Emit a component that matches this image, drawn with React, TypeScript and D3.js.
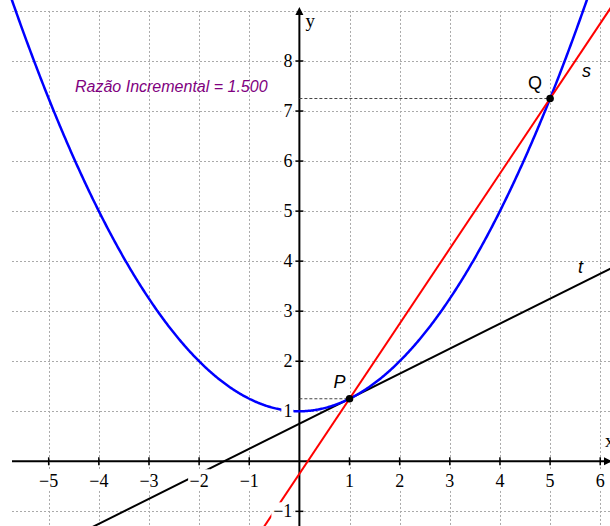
import React from "react";
import * as d3 from "d3";

const W = 610;
const H = 526;

// data
const xTicks = [-5, -4, -3, -2, -1, 1, 2, 3, 4, 5, 6];
const yTicks = [-1, 1, 2, 3, 4, 5, 6, 7, 8];
const gridX = [-5, -4, -3, -2, -1, 1, 2, 3, 4, 5, 6];
const gridY = [-1, 1, 2, 3, 4, 5, 6, 7, 8, 9];
// parabola f(x) = a x^2 + c
const parabolaA = 0.25;
const parabolaC = 1;
const pointP = { name: "P", x: 1, y: 1.25 };
const pointQ = { name: "Q", x: 5, y: 7.25 };
const tangentSlope = 0.5;
const titleText = "Razão Incremental = 1.500";

const f = (x: number) => parabolaA * x * x + parabolaC;

export default function App() {
  const xs = d3.scaleLinear().domain([-5.971, 6.195]).range([0, W]);
  const ys = d3.scaleLinear().domain([-1.293, 9.219]).range([H, 0]);
  const x0 = xs(0);
  const y0 = ys(0);
  const gridLeft = 12;
  const gridTop = ys(9);

  const samples = d3.range(-6.5, 6.5, 0.02);
  const line = d3
    .line<number>()
    .x((d) => xs(d))
    .y((d) => ys(f(d)));

  const secSlope = (pointQ.y - pointP.y) / (pointQ.x - pointP.x);
  const secB = pointP.y - secSlope * pointP.x;
  const tanB = pointP.y - tangentSlope * pointP.x;
  const lineSeg = (m: number, b: number) => {
    const xa = -7,
      xb = 7;
    return { x1: xs(xa), y1: ys(m * xa + b), x2: xs(xb), y2: ys(m * xb + b) };
  };
  const sec = lineSeg(secSlope, secB);
  const tan = lineSeg(tangentSlope, tanB);

  const fmt = (v: number) => (v < 0 ? "\u2212" + Math.abs(v) : String(v));
  const labW = (s: string) => s.length === 1 ? 10 : 20;

  const serif = "'Liberation Serif', 'DejaVu Serif', serif";
  const sans = "'Liberation Sans', Arial, sans-serif";

  return (
    <svg
      width={W}
      height={H}
      style={{ position: "absolute", left: 0, top: 0, background: "#fff" }}
    >
      <defs>
        <clipPath id="plot">
          <rect x={0} y={0} width={W} height={H} />
        </clipPath>
      </defs>
      {/* grid */}
      <g stroke="#aaaaaa" strokeWidth={1} strokeDasharray="2,2">
        {gridX.map((v) => (
          <line key={"gx" + v} x1={Math.round(xs(v)) + 0.5} x2={Math.round(xs(v)) + 0.5} y1={gridTop} y2={H} />
        ))}
        {gridY.map((v) => (
          <line key={"gy" + v} x1={gridLeft} x2={W} y1={Math.round(ys(v)) + 0.5} y2={Math.round(ys(v)) + 0.5} />
        ))}
      </g>
      {/* axes */}
      <g stroke="#000" strokeWidth={2}>
        <line x1={gridLeft} x2={W} y1={y0} y2={y0} />
        <line x1={x0} x2={x0} y1={10} y2={H} />
        {xTicks.map((v) => (
          <line key={"tx" + v} x1={xs(v)} x2={xs(v)} y1={y0 - 4} y2={y0 + 4} strokeWidth={1.5} />
        ))}
        {yTicks.map((v) => (
          <line key={"ty" + v} x1={x0 - 4} x2={x0 + 4} y1={ys(v)} y2={ys(v)} strokeWidth={1.5} />
        ))}
      </g>
      <path d={`M${x0},7 L${x0 - 4},15 L${x0 + 4},15 Z`} fill="#000" />
      <path d={`M${W + 2},${y0} L${W - 6},${y0 - 4} L${W - 6},${y0 + 4} Z`} fill="#000" />
      {/* dashed projections */}
      <g stroke="#444" strokeWidth={1} strokeDasharray="3,2">
        <line x1={x0} x2={xs(pointP.x)} y1={ys(pointP.y)} y2={ys(pointP.y)} />
        <line x1={x0} x2={xs(pointQ.x)} y1={ys(pointQ.y)} y2={ys(pointQ.y)} />
      </g>
      {/* curves */}
      <g clipPath="url(#plot)">
        <line {...tan} stroke="#000" strokeWidth={2} />
        <path d={line(samples) || ""} fill="none" stroke="#0000ff" strokeWidth={2.5} />
        <line {...sec} stroke="#ff0000" strokeWidth={2} />
      </g>
      {/* tick labels with white background */}
      <g fontFamily={serif} fontSize={18} fill="#000">
        {xTicks.map((v) => {
          const s = fmt(v);
          const w = labW(s);
          return (
            <g key={"lx" + v}>
              <rect x={xs(v) - w / 2 - 1} y={y0 + 8} width={w + 2} height={20} fill="#fff" />
              <text x={xs(v)} y={y0 + 26} textAnchor="middle">{s}</text>
            </g>
          );
        })}
        {yTicks.map((v) => {
          const s = fmt(v);
          const w = labW(s);
          return (
            <g key={"ly" + v}>
              <rect x={x0 - 7 - w - 1} y={ys(v) - 9} width={w + 2} height={18} fill="#fff" />
              <text x={x0 - 7} y={ys(v) + 6} textAnchor="end">{s}</text>
            </g>
          );
        })}
        <text x={x0 + 6} y={27} fontSize={19}>y</text>
        <text x={605} y={447} fontSize={19}>x</text>
      </g>
      {/* points */}
      {[pointP, pointQ].map((p) => (
        <circle key={p.name} cx={xs(p.x)} cy={ys(p.y)} r={3.8} fill="#000" />
      ))}
      {/* labels */}
      <g fontFamily={sans} fontSize={18} fill="#000">
        <text x={xs(pointP.x) - 16} y={ys(pointP.y) - 11} fontStyle="italic">P</text>
        <text x={xs(pointQ.x) - 22} y={ys(pointQ.y) - 10}>Q</text>
        <text x={582} y={77} fontStyle="italic">s</text>
        <text x={578} y={273} fontStyle="italic">t</text>
      </g>
      <text x={75} y={92} fontFamily={sans} fontSize={16} fontStyle="italic" fill="#800080">
        {titleText}
      </text>
    </svg>
  );
}
